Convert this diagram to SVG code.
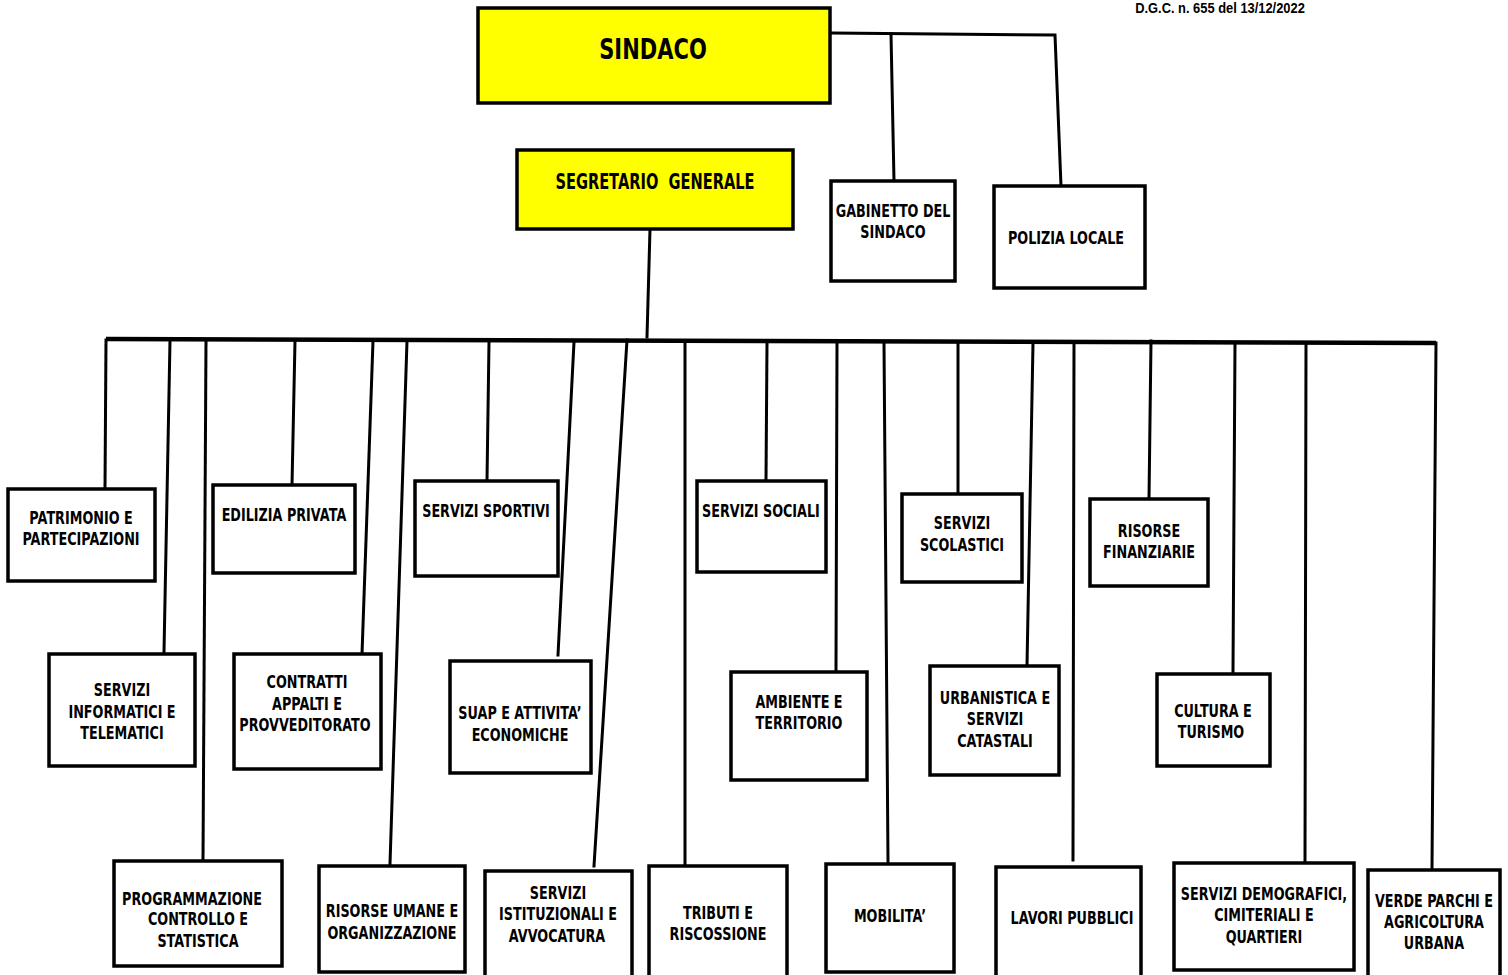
<svg xmlns="http://www.w3.org/2000/svg" width="1508" height="975" viewBox="0 0 1508 975">
<style>
.box{fill:#fff;stroke:#000;stroke-width:3.5}
.yel{fill:#ffff00;stroke:#000;stroke-width:3.5}
.t{font-family:"DejaVu Sans",sans-serif;font-weight:bold;font-size:18px;fill:#000;text-anchor:middle;transform-box:fill-box;transform-origin:center;transform:scaleX(0.71)}
.big{font-size:29px;transform:scaleX(0.725)}
.mid{font-size:21.5px;white-space:pre;transform:scaleX(0.68)}
.c{fill:none;stroke:#000;stroke-width:3;stroke-linecap:square}
.bus{fill:none;stroke:#000;stroke-width:4.5}
.note{font-family:"Liberation Sans",sans-serif;font-weight:bold;font-size:15px;fill:#000;text-anchor:middle;transform-box:fill-box;transform-origin:center;transform:scaleX(0.86)}
</style>
<rect width="1508" height="975" fill="#fff"/>
<text class="note" x="1220" y="13">D.G.C. n. 655 del 13/12/2022</text>

<g id="connectors">
<polyline class="c" points="832,33 1055,35 1061,186"/>
<line class="c" x1="891" y1="34" x2="894" y2="181"/>
<line class="c" x1="650" y1="229" x2="647" y2="337"/>
<line class="bus" x1="106" y1="339" x2="1436" y2="343"/>
<line class="c" x1="106" y1="340" x2="105" y2="489"/>
<line class="c" x1="295" y1="341" x2="292" y2="485"/>
<line class="c" x1="489" y1="342" x2="487" y2="481"/>
<line class="c" x1="767" y1="343" x2="766" y2="481"/>
<line class="c" x1="958" y1="343" x2="958" y2="494"/>
<line class="c" x1="1151" y1="341" x2="1149" y2="499"/>
<line class="c" x1="170" y1="341" x2="164" y2="652"/>
<line class="c" x1="373" y1="341" x2="362" y2="654"/>
<line class="c" x1="574" y1="342" x2="558" y2="655"/>
<line class="c" x1="837" y1="343" x2="836" y2="671"/>
<line class="c" x1="1033" y1="343" x2="1027" y2="666"/>
<line class="c" x1="1235" y1="343" x2="1233" y2="672"/>
<line class="c" x1="206" y1="341" x2="203" y2="861"/>
<line class="c" x1="407" y1="341" x2="390" y2="864"/>
<line class="c" x1="627" y1="340" x2="594" y2="866"/>
<line class="c" x1="685" y1="342" x2="685" y2="864"/>
<line class="c" x1="884" y1="343" x2="888" y2="862"/>
<line class="c" x1="1074" y1="343" x2="1073" y2="860"/>
<line class="c" x1="1306" y1="343" x2="1305" y2="862"/>
<line class="c" x1="1436" y1="343" x2="1432" y2="868"/>
</g>

<g id="sindaco"><rect class="yel" x="478" y="8" width="352" height="95"/><text class="t big" x="653" y="59">SINDACO</text></g>
<g id="segretario"><rect class="yel" x="517" y="150" width="276" height="79"/><text class="t mid" x="655" y="189">SEGRETARIO  GENERALE</text></g>
<g id="gabinetto"><rect class="box" x="831" y="181" width="124" height="100"/><text class="t" x="893" y="217">GABINETTO DEL</text><text class="t" x="893" y="238">SINDACO</text></g>
<g id="polizia"><rect class="box" x="994" y="186" width="151" height="102"/><text class="t" x="1066" y="244">POLIZIA LOCALE</text></g>

<g id="patrimonio"><rect class="box" x="8" y="489" width="147" height="92"/><text class="t" x="81" y="524">PATRIMONIO E</text><text class="t" x="81" y="545">PARTECIPAZIONI</text></g>
<g id="edilizia"><rect class="box" x="213" y="485" width="142" height="88"/><text class="t" x="284" y="521">EDILIZIA PRIVATA</text></g>
<g id="sportivi"><rect class="box" x="415" y="481" width="143" height="95"/><text class="t" x="486" y="517">SERVIZI SPORTIVI</text></g>
<g id="sociali"><rect class="box" x="697" y="481" width="129" height="91"/><text class="t" x="761" y="517">SERVIZI SOCIALI</text></g>
<g id="scolastici"><rect class="box" x="902" y="494" width="120" height="88"/><text class="t" x="962" y="529">SERVIZI</text><text class="t" x="962" y="551">SCOLASTICI</text></g>
<g id="finanziarie"><rect class="box" x="1090" y="499" width="118" height="87"/><text class="t" x="1149" y="537">RISORSE</text><text class="t" x="1149" y="558">FINANZIARIE</text></g>

<g id="informatici"><rect class="box" x="49" y="654" width="146" height="112"/><text class="t" x="122" y="696">SERVIZI</text><text class="t" x="122" y="718">INFORMATICI E</text><text class="t" x="122" y="739">TELEMATICI</text></g>
<g id="contratti"><rect class="box" x="234" y="654" width="147" height="115"/><text class="t" x="307" y="688">CONTRATTI</text><text class="t" x="307" y="710">APPALTI E</text><text class="t" x="305" y="731">PROVVEDITORATO</text></g>
<g id="suap"><rect class="box" x="450" y="661" width="141" height="112"/><text class="t" x="520" y="719">SUAP E ATTIVITA’</text><text class="t" x="520" y="741">ECONOMICHE</text></g>
<g id="ambiente"><rect class="box" x="731" y="672" width="136" height="108"/><text class="t" x="799" y="708">AMBIENTE E</text><text class="t" x="799" y="729">TERRITORIO</text></g>
<g id="urbanistica"><rect class="box" x="930" y="666" width="129" height="109"/><text class="t" x="995" y="704">URBANISTICA E</text><text class="t" x="995" y="725">SERVIZI</text><text class="t" x="995" y="747">CATASTALI</text></g>
<g id="cultura"><rect class="box" x="1157" y="674" width="113" height="92"/><text class="t" x="1213" y="717">CULTURA E</text><text class="t" x="1211" y="738">TURISMO</text></g>

<g id="programmazione"><rect class="box" x="114" y="861" width="168" height="105"/><text class="t" x="192" y="905">PROGRAMMAZIONE</text><text class="t" x="198" y="925">CONTROLLO E</text><text class="t" x="198" y="947">STATISTICA</text></g>
<g id="risorse-umane"><rect class="box" x="319" y="866" width="146" height="106"/><text class="t" x="392" y="917">RISORSE UMANE E</text><text class="t" x="392" y="939">ORGANIZZAZIONE</text></g>
<g id="istituzionali"><rect class="box" x="485" y="871" width="147" height="110"/><text class="t" x="558" y="899">SERVIZI</text><text class="t" x="558" y="920">ISTITUZIONALI E</text><text class="t" x="557" y="942">AVVOCATURA</text></g>
<g id="tributi"><rect class="box" x="649" y="866" width="138" height="115"/><text class="t" x="718" y="919">TRIBUTI E</text><text class="t" x="718" y="940">RISCOSSIONE</text></g>
<g id="mobilita"><rect class="box" x="826" y="864" width="128" height="108"/><text class="t" x="890" y="922">MOBILITA’</text></g>
<g id="lavori"><rect class="box" x="996" y="867" width="145" height="114"/><text class="t" x="1072" y="924">LAVORI PUBBLICI</text></g>
<g id="demografici"><rect class="box" x="1174" y="863" width="180" height="107"/><text class="t" x="1264" y="900">SERVIZI DEMOGRAFICI,</text><text class="t" x="1264" y="921">CIMITERIALI E</text><text class="t" x="1264" y="943">QUARTIERI</text></g>
<g id="verde"><rect class="box" x="1368" y="870" width="132" height="111"/><text class="t" x="1434" y="907">VERDE PARCHI E</text><text class="t" x="1434" y="928">AGRICOLTURA</text><text class="t" x="1434" y="949">URBANA</text></g>
</svg>
